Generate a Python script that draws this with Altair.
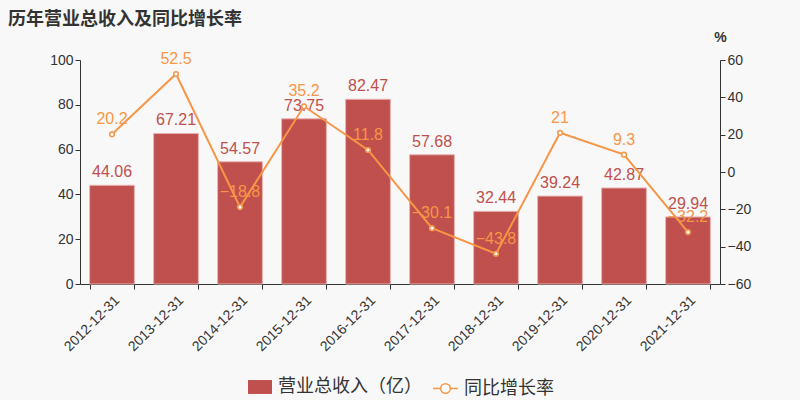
import altair as alt
import pandas as pd

years = ["2012-12-31", "2013-12-31", "2014-12-31", "2015-12-31", "2016-12-31",
         "2017-12-31", "2018-12-31", "2019-12-31", "2020-12-31", "2021-12-31"]
revenue = [44.06, 67.21, 54.57, 73.75, 82.47, 57.68, 32.44, 39.24, 42.87, 29.94]
growth = [20.2, 52.5, -18.8, 35.2, 11.8, -30.1, -43.8, 21, 9.3, -32.2]
rev_name = "营业总收入（亿）"
gr_name = "同比增长率"

df = pd.DataFrame({"year": years, "revenue": revenue, "growth": growth,
                   "s1": rev_name, "s2": gr_name})

RED = "#c0504d"
ORANGE = "#f79646"
CJK = "Noto Sans CJK SC"
NUM = "Liberation Sans"

x = alt.X("year:N", sort=years, title=None,
          scale=alt.Scale(paddingInner=0.3, paddingOuter=0.15),
          axis=alt.Axis(labelAngle=-45, labelFontSize=14, labelColor="#333", labelFont=NUM,
                        tickBand="extent", domainColor="#333", tickColor="#333",
                        tickSize=5, labelPadding=4))

base = alt.Chart(df).encode(x=x)

yl = alt.Y("revenue:Q", title=None,
           scale=alt.Scale(domain=[0, 100], nice=False),
           axis=alt.Axis(values=[0, 20, 40, 60, 80, 100], grid=False, orient="left",
                         labelFontSize=14, labelColor="#333", labelFont=NUM,
                         domainColor="#333", tickColor="#333", tickSize=5))

bars = base.mark_bar(color=RED, stroke="#e9b3b1", strokeWidth=1).encode(
    y=yl,
    color=alt.Color("s1:N", scale=alt.Scale(range=[RED]),
                    legend=alt.Legend(title=None, orient="none", legendX=168, legendY=315,
                                      symbolType="M-1,-0.58H1V0.58H-1Z", symbolSize=576,
                                      labelFontSize=18, labelColor="#333", labelFont=CJK,
                                      symbolOpacity=1, symbolStrokeWidth=0, labelOffset=6)),
)
bar_text = base.mark_text(color=RED, fontSize=16, dy=-5, baseline="bottom", font=NUM).encode(
    y=yl,
    text=alt.Text("revenue:Q"),
)
left = alt.layer(bars, bar_text)

yr = alt.Y("growth:Q", title="%", scale=alt.Scale(domain=[-60, 60], nice=False),
           axis=alt.Axis(values=[-60, -40, -20, 0, 20, 40, 60], grid=False, orient="right",
                         labelFontSize=14, labelColor="#333", labelFont=NUM,
                         domainColor="#333", tickColor="#333", tickSize=5,
                         titleAngle=0, titleX=0, titleY=-16, titleAlign="center",
                         titleFontSize=14, titleColor="#333", titleFontWeight="bold",
                         titleFont=NUM))

line = base.mark_line(strokeWidth=2).encode(
    y=yr,
    color=alt.Color("s2:N", scale=alt.Scale(range=[ORANGE]),
                    legend=alt.Legend(title=None, orient="none", legendX=352, legendY=315,
                                      symbolType="M-1,0H-0.38M0.38,0H1M-0.38,0A0.38,0.38 0 1,0 0.38,0A0.38,0.38 0 1,0 -0.38,0",
                                      symbolSize=625, symbolStrokeWidth=1.5,
                                      symbolFillColor="#ffffff", symbolStrokeColor=ORANGE,
                                      labelFontSize=18, labelColor="#333", labelFont=CJK,
                                      labelOffset=5)),
)
pts = base.mark_point(filled=True, fill="white", stroke=ORANGE, strokeWidth=1.5, size=22, opacity=1).encode(
    y=yr,
)
line_text = base.mark_text(color=ORANGE, fontSize=16, dy=-7, baseline="bottom", font=NUM).encode(
    y=yr,
    text=alt.Text("growth:Q"),
)
right = alt.layer(line, pts, line_text)

chart = alt.layer(left, right).resolve_scale(y="independent", color="independent").properties(
    width=640, height=224,
    autosize=alt.AutoSizeParams(type="none"),
    padding={"left": 80, "top": 60, "right": 80, "bottom": 116},
    background="#f8f8f8",
    title=alt.TitleParams("历年营业总收入及同比增长率", anchor="start", dx=-72, dy=3, offset=4,
                          fontSize=18, fontWeight="bold", color="#333", font=CJK, frame="group"),
).configure_view(stroke=None)

chart.save("out.html", embed_options={"renderer": "svg", "actions": False})
